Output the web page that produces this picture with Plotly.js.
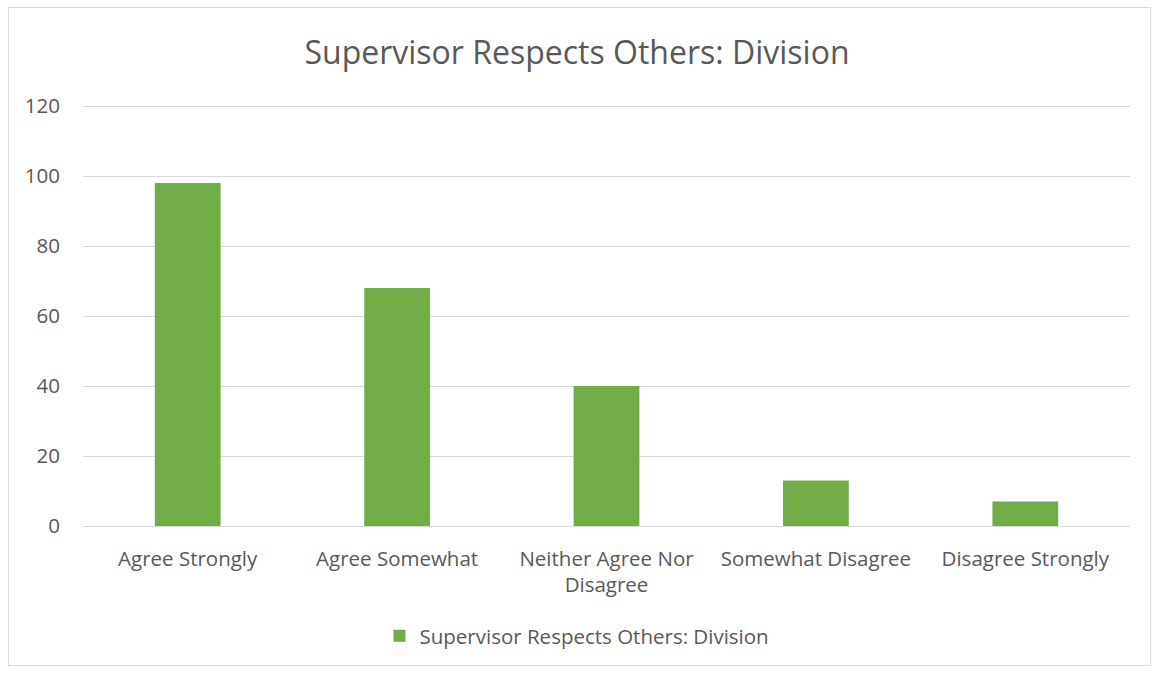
<!DOCTYPE html>
<html>
<head>
<meta charset="utf-8">
<script src="https://cdn.plot.ly/plotly-3.0.1.min.js"></script>
<style>
  html, body { margin: 0; padding: 0; background: #ffffff; }
  #wrap { position: relative; width: 1154px; height: 675px; }
  #chart { width: 1154px; height: 675px; }
  #frame { position: absolute; left: 8px; top: 7px; width: 1141px; height: 657px;
           border: 1px solid #d9d9d9; pointer-events: none; }
</style>
</head>
<body>
<div id="wrap">
  <div id="chart"></div>
  <div id="frame"></div>
</div>
<script>
const categories = ["Agree Strongly", "Agree Somewhat", "Neither Agree Nor<br>Disagree", "Somewhat Disagree", "Disagree Strongly"];
const values = [98, 68, 40, 13, 7];
const seriesName = "Supervisor Respects Others: Division";
const chartTitle = "Supervisor Respects Others: Division";
const yTicks = [0, 20, 40, 60, 80, 100, 120];

const FONT = "Open Sans, Noto Sans, Liberation Sans, sans-serif";
const TXT = "#595959";

const data = [{
  type: "bar",
  x: categories,
  y: values,
  name: seriesName,
  marker: { color: "#70ad47" },
  hoverinfo: "x+y"
}];

const layout = {
  width: 1154, height: 675,
  paper_bgcolor: "#ffffff", plot_bgcolor: "#ffffff",
  margin: { l: 83, r: 24, t: 105, b: 149 },
  font: { family: FONT, color: TXT, size: 20 },
  title: { text: chartTitle, font: { family: FONT, size: 32, color: TXT },
           x: 0.5, xanchor: "center", y: 1 - 53 / 675, yanchor: "middle", yref: "container" },
  bargap: 0.686,
  showlegend: true,
  legend: { orientation: "h", x: 0.5, xanchor: "center", xref: "container",
            y: 1 - 636 / 675, yanchor: "middle", yref: "container",
            font: { family: FONT, size: 20.5, color: TXT } },
  xaxis: {
    type: "category",
    showgrid: false,
    showline: true, linecolor: "#d9d9d9", linewidth: 1,
    ticks: "", ticklabelstandoff: 14,
    tickfont: { family: FONT, size: 20.5, color: TXT },
    fixedrange: true
  },
  yaxis: {
    range: [0, 120.3],
    tickvals: yTicks,
    ticktext: yTicks.map(String),
    showgrid: true, gridcolor: "#d9d9d9", gridwidth: 1,
    zeroline: false, showline: false,
    ticks: "", ticklabelstandoff: 22,
    tickfont: { family: FONT, size: 20.5, color: TXT },
    fixedrange: true
  }
};

Plotly.newPlot("chart", data, layout, { displayModeBar: false, staticPlot: true });
</script>
</body>
</html>
